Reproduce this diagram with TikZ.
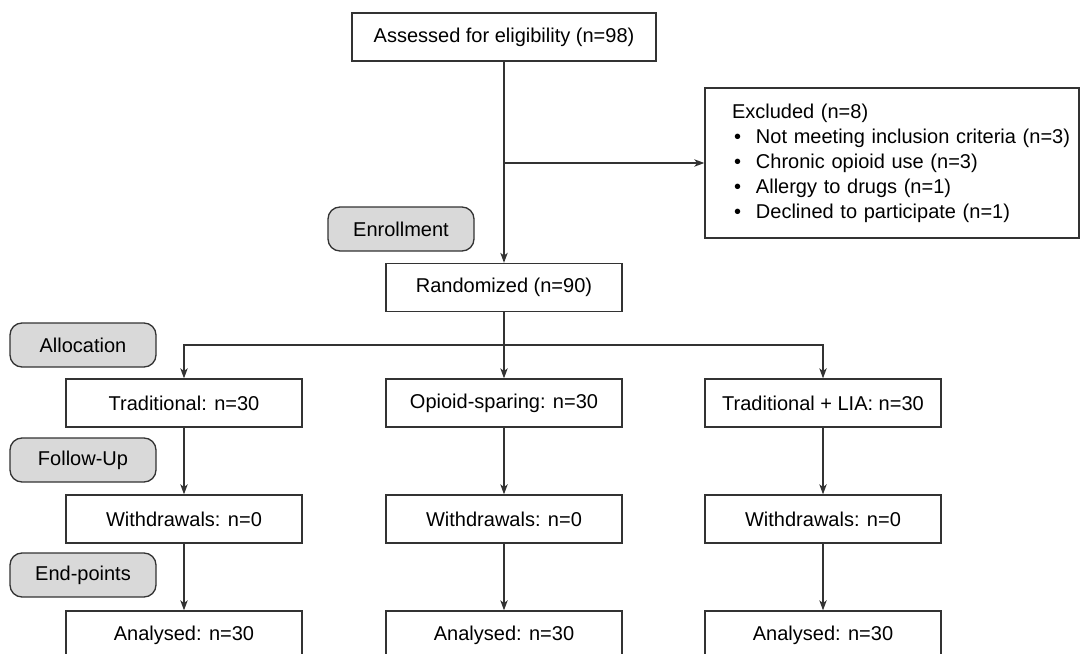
\documentclass[tikz,border=0pt]{standalone}
\usepackage{fontspec}
\setmainfont{Liberation Sans}
\usetikzlibrary{arrows.meta, positioning}

\begin{document}
\begin{tikzpicture}[->, > = {Stealth[length=7.5pt, width=5.5pt, inset=2pt]}, x = 0.75pt, y = -0.75pt, node distance = 50pt, line width = 1pt,
	font = \fontsize{15}{18.75}\selectfont,
	box/.style = {draw = black!80, rectangle, minimum width = 177pt, minimum height = 36pt},
	stage/.style = {draw = black!80, rectangle, rounded corners = 9pt, fill = black!15, minimum width = 109.5pt, minimum height = 33pt}]

\useasboundingbox (0,0) rectangle (1080,653);

\node[box, minimum width = 228pt]	(assess)	at (504,37)		{Assessed for eligibility (n=98)};
\node[draw = black!80, text width = 240pt, align = left, inner xsep = 20.25pt, minimum height = 112.5pt]
									(excl)		at (892,163)	{Excluded (n=8)\\
	\mbox{\hspace*{1.5pt}\makebox[16.5pt][l]{\textbullet}Not meeting inclusion criteria (n=3)}\\
	\hspace*{1.5pt}\makebox[16.5pt][l]{\textbullet}Chronic opioid use (n=3)\\
	\hspace*{1.5pt}\makebox[16.5pt][l]{\textbullet}Allergy to drugs (n=1)\\
	\hspace*{1.5pt}\makebox[16.5pt][l]{\textbullet}Declined to participate (n=1)};
\node[stage]						(enrol)		at (401,229)	{Enrollment};
\node[box]							(rand)		at (504,287.5)	{Randomized (n=90)};

\node[stage]						(alloc)		at (83,345)		{Allocation};
\node[stage]						(follow)	at (83,460)		{Follow-Up};
\node[stage]						(endp)		at (83,575)		{End-points};

\node[box]							(trad)		at (184,403)	{Traditional: n=30};
\node[box]							(opio)		at (504,403)	{Opioid-sparing: n=30};
\node[box]							(lia)		at (823,403)	{Traditional + LIA: n=30};
\node[box]							(trad2)	[below=of trad]	{Withdrawals: n=0};
\node[box]							(opio2)	[below=of opio]	{Withdrawals: n=0};
\node[box]							(lia2)		[below=of lia]	{Withdrawals: n=0};
\node[box]							(trad3)	[below=of trad2]	{Analysed: n=30};
\node[box]							(opio3)	[below=of opio2]	{Analysed: n=30};
\node[box]							(lia3)		[below=of lia2]	{Analysed: n=30};

\coordinate (split) at (assess.south |- excl.west);
\coordinate (fork) at (504,345);

\draw[black!80]		(assess)	--	(rand);
\draw[black!80]		(split)		--	(excl.west);
\draw[-, black!80]	(rand)		--	(fork);
\draw[black!80]		(fork)		-|	(trad);
\draw[black!80]		(fork)		--	(opio);
\draw[black!80]		(fork)		-|	(lia);
\draw[black!80]		(trad)		--	(trad2);
\draw[black!80]		(opio)		--	(opio2);
\draw[black!80]		(lia)		--	(lia2);
\draw[black!80]		(trad2)	--	(trad3);
\draw[black!80]		(opio2)	--	(opio3);
\draw[black!80]		(lia2)		--	(lia3);
\end{tikzpicture}
\end{document}
